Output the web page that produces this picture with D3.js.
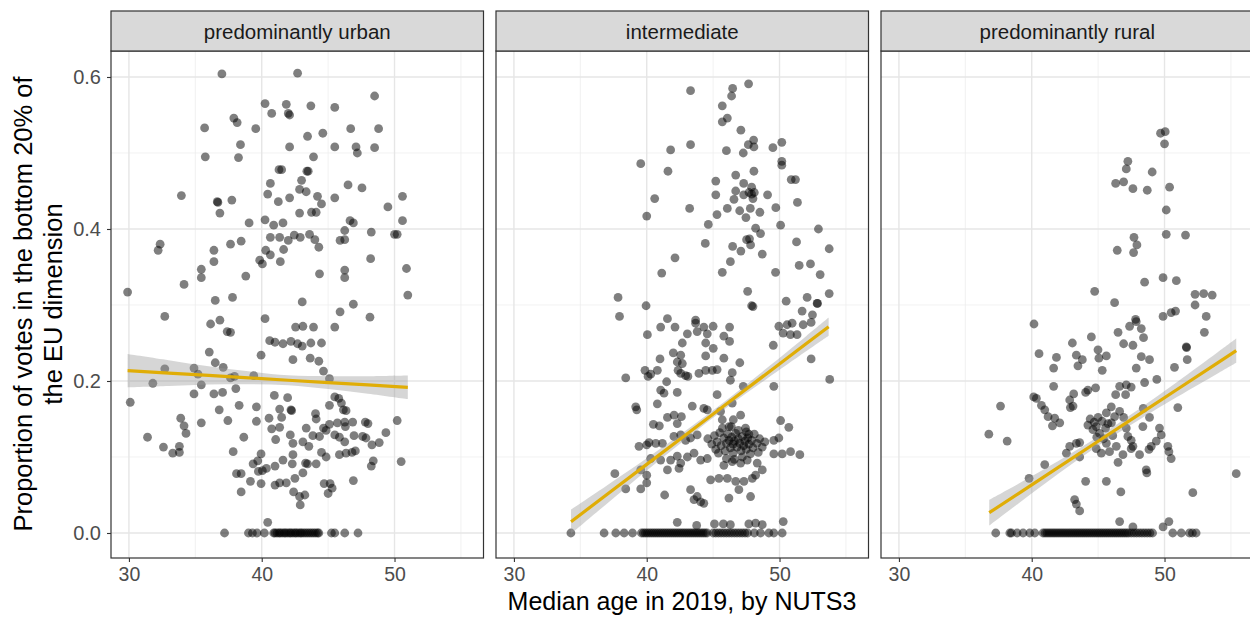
<!DOCTYPE html>
<html><head><meta charset="utf-8">
<script src="https://cdn.jsdelivr.net/npm/d3@7"></script>
<style>body{margin:0;background:#fff}svg{display:block}</style>
</head><body><svg id="c" width="1250" height="621"></svg>
<script>
const panelNames = ["predominantly urban", "intermediate", "predominantly rural"];
const xTicks = [30, 40, 50];
const xMinor = [35, 45, 55];
const yTicks = [0, 0.2, 0.4, 0.6];
const yMinor = [0.1, 0.3, 0.5];
const xTitle = "Median age in 2019, by NUTS3";
const yTitle = ["Proportion of votes in the bottom 20% of", "the EU dimension"];

// [median age, proportion]
const urbanPts = [[37.0,0.604],[42.7,0.605],[48.5,0.575],[40.25,0.565],[41.85,0.564],[43.7,0.562],[45.5,0.560],[40.75,0.552],[42.0,0.552],[42.1,0.550],[37.9,0.546],[38.15,0.540],[35.7,0.533],[39.55,0.532],[46.7,0.532],[48.8,0.532],[44.6,0.526],[43.45,0.522],[38.4,0.511],[42.1,0.508],[45.5,0.508],[47.1,0.508],[47.2,0.500],[48.5,0.507],[35.75,0.495],[38.25,0.494],[43.9,0.495],[41.3,0.478],[41.5,0.478],[43.4,0.476],[43.5,0.476],[43.0,0.464],[40.65,0.460],[42.85,0.452],[43.35,0.449],[46.5,0.458],[47.55,0.454],[40.45,0.446],[33.95,0.444],[42.1,0.441],[41.25,0.436],[44.2,0.443],[44.5,0.433],[45.5,0.441],[50.6,0.443],[36.65,0.436],[36.7,0.435],[37.75,0.438],[36.85,0.421],[42.85,0.421],[43.75,0.422],[44.1,0.422],[49.5,0.429],[39.05,0.408],[40.25,0.412],[40.9,0.405],[41.6,0.408],[46.65,0.411],[46.9,0.408],[50.6,0.411],[48.25,0.396],[46.25,0.398],[45.9,0.385],[46.25,0.386],[42.45,0.392],[42.9,0.389],[43.6,0.393],[44.0,0.386],[40.65,0.389],[41.35,0.389],[42.0,0.385],[50.0,0.393],[50.2,0.393],[32.35,0.380],[32.2,0.372],[37.65,0.380],[38.45,0.384],[36.4,0.372],[40.3,0.372],[40.65,0.366],[41.65,0.373],[44.3,0.376],[48.2,0.361],[39.85,0.359],[40.05,0.354],[41.4,0.357],[36.4,0.357],[35.45,0.347],[35.45,0.336],[38.8,0.338],[44.35,0.341],[46.25,0.346],[46.25,0.336],[50.9,0.348],[34.15,0.327],[29.9,0.317],[51.0,0.313],
[36.5,0.306],[37.8,0.310],[32.7,0.285],[40.25,0.282],[36.15,0.275],[36.85,0.280],[37.4,0.265],[37.65,0.264],[40.6,0.253],[39.95,0.234],[36.05,0.238],[36.5,0.224],[37.1,0.218],[32.7,0.216],[34.9,0.217],[35.2,0.209],[37.65,0.204],[37.95,0.206],[39.4,0.207],[31.8,0.197],[35.45,0.195],[34.9,0.183],[36.4,0.183],[37.05,0.185],[38.05,0.190],[30.1,0.172],
[43.05,0.304],[45.9,0.291],[46.9,0.301],[48.15,0.284],[42.55,0.271],[43.1,0.272],[43.9,0.271],[45.5,0.271],[41.0,0.251],[41.6,0.249],[42.2,0.252],[42.7,0.249],[43.05,0.246],[43.7,0.250],[44.5,0.250],[42.35,0.228],[43.65,0.230],[44.3,0.226],[44.65,0.213],[45.1,0.203],
[38.3,0.168],[39.6,0.166],[36.8,0.162],[37.45,0.148],[39.6,0.147],[33.9,0.151],[34.15,0.141],[34.3,0.131],[35.45,0.145],[31.4,0.126],[32.6,0.113],[33.3,0.105],[33.8,0.114],[33.8,0.106],[38.65,0.126],[37.85,0.107],
[45.5,0.179],[45.8,0.177],[40.95,0.181],[41.95,0.178],[46.0,0.171],[46.15,0.162],[46.35,0.161],[45.1,0.168],[41.35,0.163],[41.5,0.152],[42.2,0.162],[42.25,0.161],[44.05,0.157],[44.1,0.150],[40.55,0.151],[45.7,0.145],[46.25,0.146],[46.85,0.146],[47.8,0.146],[48.0,0.144],[50.2,0.148],[40.75,0.137],[41.35,0.139],[43.35,0.138],[44.65,0.138],[45.1,0.143],[46.3,0.140],[41.05,0.123],[42.15,0.129],[43.85,0.128],[44.35,0.127],[44.85,0.135],[45.5,0.129],[45.85,0.126],[46.25,0.120],[46.95,0.128],[47.6,0.127],[47.85,0.125],[48.85,0.119],[49.35,0.132],[42.35,0.118],[43.1,0.120],[43.55,0.114],[48.3,0.116],[39.95,0.104],[39.7,0.095],[41.6,0.096],[42.35,0.103],[42.3,0.091],[44.5,0.106],[44.85,0.100],[45.85,0.103],[46.35,0.105],[46.8,0.106],[47.05,0.108],[48.4,0.095],[48.25,0.088],[50.5,0.094],[39.35,0.091],[39.75,0.081],[40.05,0.082],[40.35,0.085],[41.0,0.088],[43.3,0.092],[43.45,0.091],[44.1,0.091],[43.1,0.079],[38.1,0.078],[38.45,0.078],[42.5,0.072],[46.9,0.069],[39.15,0.068],[39.95,0.065],[41.0,0.063],[41.35,0.066],[41.85,0.066],[44.7,0.065],[45.15,0.065],[45.3,0.059],[45.0,0.052],[38.45,0.054],[42.4,0.054],[42.85,0.048],[43.25,0.050],[42.9,0.037],[40.45,0.014]];
const urbanZeroAges = [37.2,39.0,39.3,39.65,40.2,40.9,41.0,41.15,41.3,41.4,41.55,41.7,41.8,41.95,42.1,42.2,42.35,42.5,42.6,42.75,42.9,43.0,43.15,43.3,43.45,43.6,43.75,43.9,44.05,44.2,44.3,45.25,45.5,46.25,47.25];

const interPts = [[47.67,0.591],[46.47,0.585],[46.39,0.575],[43.3,0.582],[45.69,0.562],[45.69,0.541],[46.07,0.546],[47.09,0.530],[48.05,0.517],[47.65,0.511],[48.07,0.508],[50.17,0.514],[49.5,0.507],[41.8,0.504],[43.3,0.511],[46.0,0.503],[47.27,0.500],[39.55,0.486],[41.6,0.476],[50.17,0.489],[50.17,0.484],[48.07,0.476],[50.88,0.465],[51.2,0.465],[45.2,0.463],[45.2,0.445],[46.7,0.471],[47.3,0.460],[47.9,0.455],[46.7,0.450],[47.3,0.445],[47.7,0.448],[47.9,0.446],[48.1,0.448],[48.0,0.440],[49.1,0.445],[51.35,0.435],[40.6,0.440],[40.0,0.417],[43.23,0.427],[46.07,0.427],[46.57,0.439],[47.0,0.424],[47.47,0.415],[47.8,0.427],[48.52,0.422],[49.72,0.428],[45.29,0.419],[44.64,0.406],[50.08,0.405],[52.93,0.400],[48.2,0.401],[48.57,0.394],[47.52,0.386],[47.74,0.387],[47.82,0.379],[44.41,0.381],[46.47,0.377],[47.09,0.371],[48.7,0.367],[51.28,0.383],[53.74,0.374],[42.13,0.362],[46.3,0.357],[51.48,0.352],[52.33,0.354],[53.06,0.340],[41.13,0.342],[45.69,0.343],[49.7,0.343],[53.74,0.315],[37.84,0.310],[39.95,0.299],[47.6,0.318],[50.5,0.305],[52.08,0.310],[52.86,0.302],[47.9,0.299],[48.0,0.298],
[37.95,0.285],[51.7,0.292],[52.48,0.287],[52.83,0.302],[41.56,0.282],[42.13,0.271],[41.05,0.271],[43.68,0.280],[43.68,0.276],[44.3,0.271],[45.0,0.272],[46.24,0.271],[40.05,0.261],[43.06,0.262],[43.8,0.265],[44.56,0.262],[45.81,0.259],[46.24,0.252],[49.95,0.272],[50.57,0.274],[50.95,0.276],[51.78,0.274],[52.38,0.277],[50.27,0.263],[50.82,0.261],[51.32,0.261],[49.53,0.247],[44.44,0.250],[45.01,0.243],[42.68,0.250],[42.0,0.237],[42.56,0.234],[42.3,0.225],[42.68,0.223],[41.0,0.229],[44.44,0.233],[45.81,0.230],[47.01,0.224],[39.87,0.214],[40.3,0.209],[40.8,0.214],[40.1,0.206],[38.42,0.204],[42.36,0.214],[42.56,0.210],[42.93,0.207],[43.1,0.206],[43.93,0.210],[44.44,0.214],[44.94,0.214],[45.3,0.215],[46.44,0.211],[46.3,0.201],[47.27,0.193],[49.57,0.193],[53.78,0.202],[52.38,0.229],[41.5,0.199],[41.05,0.188],[41.3,0.184],[40.8,0.170],[42.3,0.185],[45.3,0.182],[39.17,0.166],[39.25,0.162],[43.43,0.167],[44.3,0.164],[44.56,0.162],[45.56,0.160],[46.44,0.171],[47.07,0.155],[46.52,0.149],[41.56,0.152],[42.06,0.155],[42.61,0.153],[42.3,0.144],[40.5,0.143],[40.95,0.141],[45.69,0.149],[46.37,0.140],[47.44,0.138],[47.69,0.130],[50.08,0.148],[50.7,0.139],
[39.42,0.114],[40.0,0.116],[40.17,0.119],[40.68,0.118],[41.18,0.118],[42.05,0.127],[42.56,0.129],[42.93,0.122],[43.3,0.125],[43.8,0.129],[49.57,0.122],[49.95,0.125],[49.57,0.104],[50.2,0.104],[50.83,0.107],[51.53,0.103],[40.3,0.098],[41.05,0.096],[41.8,0.096],[42.3,0.101],[43.06,0.100],[43.56,0.105],[44.06,0.096],[44.56,0.098],[37.6,0.078],[39.55,0.083],[40.0,0.076],[41.56,0.083],[42.43,0.085],[42.56,0.092],[45.81,0.089],[46.44,0.094],[47.07,0.092],[47.57,0.096],[48.32,0.092],[48.7,0.083],[48.2,0.076],[44.81,0.070],[45.44,0.072],[46.07,0.072],[46.7,0.068],[47.32,0.068],[47.95,0.072],[40.0,0.066],[39.55,0.058],[38.42,0.058],[41.35,0.050],[43.3,0.057],[43.56,0.044],[44.06,0.041],[43.8,0.048],[44.3,0.039],[46.19,0.046],[46.94,0.057],[47.82,0.048],[42.3,0.014],[43.76,0.010],[45.1,0.012],[45.77,0.012],[46.3,0.011],[47.69,0.012],[48.2,0.013],[48.7,0.011],[50.28,0.015],
[45.1,0.128],[45.3,0.120],[45.5,0.132],[45.6,0.115],[45.8,0.125],[45.9,0.108],[46.0,0.118],[46.1,0.130],[46.2,0.122],[46.3,0.112],[46.4,0.126],[46.5,0.117],[46.5,0.105],[46.6,0.121],[46.7,0.131],[46.8,0.113],[46.9,0.124],[47.0,0.118],[47.1,0.108],[47.2,0.127],[47.3,0.115],[47.4,0.121],[47.5,0.110],[47.6,0.125],[47.7,0.117],[47.9,0.122],[48.0,0.112],[48.1,0.130],[48.3,0.118],[48.5,0.124],[48.7,0.113],[48.9,0.120],[46.0,0.098],[46.6,0.097],[47.2,0.100],[45.4,0.105],[46.9,0.135],[45.7,0.138],[47.8,0.104],[48.4,0.106],[44.9,0.117],[44.6,0.124],[45.2,0.110],[46.2,0.140],[47.5,0.133]];
const interZeroAges = [34.29,36.79,37.67,38.3,38.93,39.6,39.75,39.9,40.05,40.2,40.35,40.5,40.65,40.8,40.95,41.1,41.25,41.4,41.55,41.7,41.85,42.0,42.15,42.3,42.45,42.6,42.75,42.9,43.05,43.2,43.35,43.5,43.65,43.8,43.95,44.1,44.25,44.4,44.55,45.0,45.2,45.4,45.6,45.8,46.0,46.2,46.4,46.6,46.8,47.0,47.2,47.4,47.6,48.1,48.57,49.2,49.57,50.2];

const ruralPts = [[49.7,0.526],[50.05,0.528],[50.0,0.512],[47.24,0.489],[47.12,0.479],[49.07,0.475],[46.32,0.460],[46.92,0.462],[47.62,0.453],[48.7,0.451],[50.38,0.455],[50.13,0.425],[47.7,0.389],[47.92,0.379],[47.67,0.369],[46.44,0.372],[50.13,0.393],[51.58,0.392],[48.5,0.330],[49.89,0.336],[50.89,0.332],[44.74,0.318],[46.24,0.303],[52.3,0.314],[52.95,0.315],[53.59,0.313],[52.3,0.300],[53.14,0.285],[49.89,0.285],[50.5,0.290],[50.83,0.292],[47.82,0.281],[53.0,0.264],
[40.17,0.275],[44.49,0.258],[43.06,0.250],[46.5,0.264],[47.37,0.272],[47.87,0.278],[48.25,0.269],[48.42,0.257],[46.92,0.249],[47.62,0.247],[40.55,0.236],[41.86,0.231],[41.65,0.217],[43.36,0.234],[43.81,0.228],[43.48,0.220],[44.99,0.241],[45.06,0.230],[45.62,0.233],[45.31,0.214],[48.25,0.232],[48.87,0.228],[47.87,0.217],[51.64,0.245],[51.66,0.244],[51.71,0.228],[50.75,0.218],[49.42,0.202],[48.5,0.198],[41.65,0.193],[43.16,0.183],[44.23,0.188],[44.81,0.191],[44.06,0.185],[46.62,0.193],[47.12,0.195],[47.49,0.192],[46.32,0.182],[47.07,0.182],[40.15,0.179],[40.35,0.177],[37.65,0.167],[40.73,0.168],[40.98,0.162],[41.23,0.153],[41.73,0.151],[42.11,0.145],[41.56,0.141],[42.86,0.175],[43.11,0.167],[42.91,0.165],[45.99,0.166],[45.62,0.158],[46.62,0.160],[46.92,0.152],[46.24,0.153],[44.23,0.142],[44.61,0.136],[44.86,0.140],[45.11,0.131],[45.56,0.138],[45.74,0.144],[47.12,0.138],[47.24,0.127],[47.49,0.122],[47.62,0.114],[48.37,0.140],[48.87,0.152],[49.62,0.138],[49.75,0.129],[49.38,0.121],[49.0,0.114],[48.83,0.110],[51.0,0.165],[50.25,0.114],[50.33,0.107],[50.5,0.098],[42.86,0.114],[43.36,0.118],[43.61,0.119],[42.61,0.105],[43.61,0.100],[44.86,0.111],[45.24,0.105],[45.62,0.118],[46.37,0.114],[46.87,0.103],[47.49,0.111],[48.12,0.103],[46.5,0.093],[45.86,0.107],[40.98,0.090],[48.62,0.083],[48.67,0.079],[39.8,0.072],[44.06,0.068],[45.62,0.068],[55.4,0.078],[46.71,0.054],[52.13,0.053],[43.23,0.044],[43.36,0.038],[43.61,0.029],[46.62,0.015],[47.62,0.008],[49.89,0.008],[50.33,0.015],[36.77,0.130],[38.15,0.121],
[44.4,0.150],[44.7,0.146],[45.0,0.152],[45.3,0.147],[44.9,0.126],[45.4,0.124],[46.1,0.128],[46.0,0.145],[48.4,0.164]];
const ruralZeroAges = [37.29,38.35,38.47,38.9,39.35,39.85,40.23,40.85,41.0,41.15,41.3,41.45,41.6,41.75,41.9,42.05,42.2,42.35,42.5,42.65,42.8,42.95,43.1,43.25,43.4,43.55,43.7,43.85,44.0,44.15,44.3,44.45,44.6,44.75,44.9,45.05,45.2,45.35,45.5,45.65,45.8,45.95,46.1,46.25,46.4,46.55,46.7,46.85,47.0,47.15,47.3,47.5,47.7,47.9,48.1,48.3,48.5,48.7,48.9,49.1,50.62,51.26,51.88,52.1,52.38];

// linear fit: [age, fitted proportion, CI half-width]
const urbanFit = [[29.9,0.2136,0.022],[33,0.2104,0.017],[36,0.2073,0.012],[39,0.2042,0.0085],[42,0.2010,0.0065],[45,0.1979,0.0085],[48,0.1948,0.0115],[51.0,0.1917,0.0155]];
const interFit = [[34.3,0.0149,0.016],[37,0.0506,0.012],[40,0.0903,0.008],[43,0.1300,0.0055],[46,0.1697,0.005],[49,0.2093,0.007],[52,0.2490,0.010],[53.7,0.2715,0.012]];
const ruralFit = [[36.8,0.0267,0.017],[39,0.0519,0.013],[42,0.0863,0.0085],[45,0.1207,0.006],[48,0.1551,0.007],[51,0.1895,0.010],[54,0.2239,0.014],[55.4,0.2400,0.016]];

const panelPts = [urbanPts, interPts, ruralPts];
const panelZero = [urbanZeroAges, interZeroAges, ruralZeroAges];
const panelFit = [urbanFit, interFit, ruralFit];

const svg = d3.select("#c");
svg.append("rect").attr("width",1250).attr("height",621).attr("fill","#fff");
const font = "'Liberation Sans', Arial, sans-serif";
const panelLeft = [111, 496, 881];
const panelW = 372.5;
const plotTop = 51, plotBottom = 558, stripTop = 11;
const x = d3.scaleLinear().domain([28.65, 56.7]).range([0, panelW]);
const y = d3.scaleLinear().domain([-0.0329, 0.6342]).range([plotBottom, plotTop]);
const lineColor = "#E0AD06";

svg.append("defs").append("clipPath").attr("id","pc").append("rect")
  .attr("x",0).attr("y",plotTop).attr("width",panelW).attr("height",plotBottom-plotTop);

panelNames.forEach((name, i) => {
  const g = svg.append("g").attr("transform", `translate(${panelLeft[i]},0)`);
  const inner = g.append("g").attr("clip-path","url(#pc)");
  inner.selectAll(".xm").data(xMinor).join("line")
    .attr("x1", d=>x(d)).attr("x2", d=>x(d)).attr("y1", plotTop).attr("y2", plotBottom)
    .attr("stroke","#ebebeb").attr("stroke-width",0.7);
  inner.selectAll(".ym").data(yMinor).join("line")
    .attr("x1",0).attr("x2",panelW).attr("y1",d=>y(d)).attr("y2",d=>y(d))
    .attr("stroke","#ebebeb").attr("stroke-width",0.7);
  inner.selectAll(".xM").data(xTicks).join("line")
    .attr("x1", d=>x(d)).attr("x2", d=>x(d)).attr("y1", plotTop).attr("y2", plotBottom)
    .attr("stroke","#e6e6e6").attr("stroke-width",1.4);
  inner.selectAll(".yM").data(yTicks).join("line")
    .attr("x1",0).attr("x2",panelW).attr("y1",d=>y(d)).attr("y2",d=>y(d))
    .attr("stroke","#e6e6e6").attr("stroke-width",1.4);
  const pts = panelPts[i].concat(panelZero[i].map(a => [a, 0]));
  inner.selectAll("circle").data(pts).join("circle")
    .attr("cx", d=>x(d[0])).attr("cy", d=>y(d[1])).attr("r",4.4)
    .attr("fill","#000").attr("fill-opacity",0.5);
  const fit = panelFit[i];
  inner.append("path").datum(fit)
    .attr("d", d3.area().x(d=>x(d[0])).y0(d=>y(d[1]-d[2])).y1(d=>y(d[1]+d[2])).curve(d3.curveCatmullRom))
    .attr("fill","#999").attr("fill-opacity",0.4);
  inner.append("path").datum(fit)
    .attr("d", d3.line().x(d=>x(d[0])).y(d=>y(d[1])))
    .attr("fill","none").attr("stroke",lineColor).attr("stroke-width",3.2);
  g.append("rect").attr("x",0).attr("y",plotTop).attr("width",panelW).attr("height",plotBottom-plotTop)
    .attr("fill","none").attr("stroke","#333").attr("stroke-width",1.2);
  g.append("rect").attr("x",0).attr("y",stripTop).attr("width",panelW).attr("height",plotTop-stripTop)
    .attr("fill","#d9d9d9").attr("stroke","#333").attr("stroke-width",1.2);
  g.append("text").attr("x",panelW/2).attr("y",38.5).attr("text-anchor","middle")
    .attr("font-family",font).attr("font-size",20.5).attr("fill","#1a1a1a").text(name);
  const xa = g.append("g").attr("transform",`translate(0,${plotBottom})`)
    .call(d3.axisBottom(x).tickValues(xTicks).tickSize(4).tickPadding(5.5).tickFormat(d3.format("d")));
  xa.select(".domain").remove();
  xa.selectAll("line").attr("stroke","#333").attr("stroke-width",1.1);
  xa.selectAll("text").attr("font-family",font).attr("font-size",19.5).attr("fill","#4d4d4d");
  if (i === 0) {
    const ya = g.append("g").call(d3.axisLeft(y).tickValues(yTicks).tickSize(4).tickPadding(6).tickFormat(d3.format(".1f")));
    ya.select(".domain").remove();
    ya.selectAll("line").attr("stroke","#333").attr("stroke-width",1.1);
    ya.selectAll("text").attr("font-family",font).attr("font-size",20).attr("fill","#4d4d4d");
  }
});

svg.append("text").attr("x",682).attr("y",609.5).attr("text-anchor","middle")
  .attr("font-family",font).attr("font-size",25).attr("fill","#000").text(xTitle);
const yt = svg.append("text").attr("transform","translate(31.5,304) rotate(-90)")
  .attr("text-anchor","middle").attr("font-family",font).attr("font-size",25.5).attr("fill","#000");
yt.append("tspan").attr("x",0).attr("y",0).text(yTitle[0]);
yt.append("tspan").attr("x",0).attr("y",30.5).text(yTitle[1]);
</script>
</body></html>
